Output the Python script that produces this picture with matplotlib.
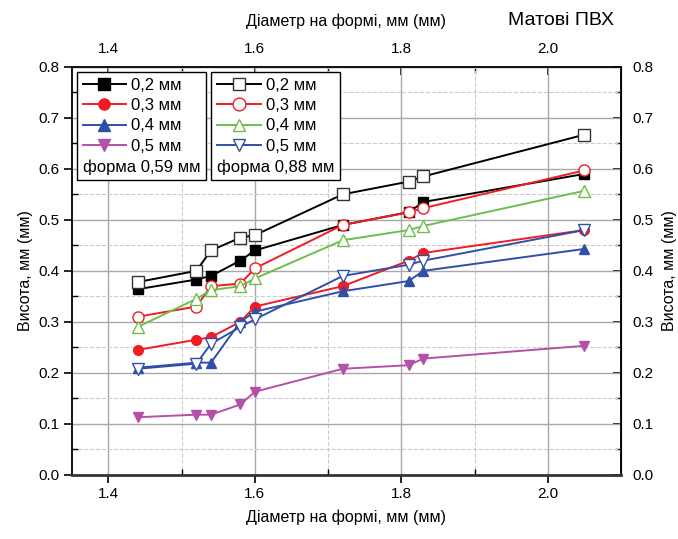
import matplotlib.pyplot as plt
from matplotlib.ticker import MultipleLocator, FixedLocator

diam = [1.44, 1.52, 1.54, 1.58, 1.60, 1.72, 1.81, 1.83, 2.05]

# форма 0,59 мм (filled markers)
f059_02 = [0.364, 0.383, 0.390, 0.420, 0.440, 0.490, 0.515, 0.535, 0.590]
f059_03 = [0.245, 0.265, 0.270, 0.300, 0.330, 0.370, 0.420, 0.435, 0.480]
f059_04 = [0.210, 0.220, 0.220, 0.300, 0.320, 0.360, 0.380, 0.400, 0.443]
f059_05 = [0.113, 0.118, 0.118, 0.138, 0.163, 0.208, 0.215, 0.228, 0.253]

# форма 0,88 мм (open markers)
f088_02 = [0.378, 0.400, 0.440, 0.465, 0.470, 0.550, 0.575, 0.585, 0.667]
f088_03 = [0.310, 0.330, 0.370, 0.375, 0.405, 0.490, 0.515, 0.523, 0.597]
f088_04 = [0.290, 0.345, 0.362, 0.370, 0.385, 0.460, 0.480, 0.488, 0.557]
f088_05 = [0.208, 0.218, 0.257, 0.290, 0.305, 0.390, 0.412, 0.420, 0.480]

labels = ['0,2 мм', '0,3 мм', '0,4 мм', '0,5 мм']
xticks = [1.4, 1.6, 1.8, 2.0]
xminor = [1.5, 1.7, 1.9]

BLACK = '#000000'
RED = '#ee1c25'
BLUE = '#3050a8'
MAGENTA = '#b450a8'
GREEN = '#6cbf4a'

plt.rcParams['font.family'] = ['Liberation Sans', 'DejaVu Sans']

fig = plt.figure(figsize=(6.78, 5.39), dpi=100)
ax = fig.add_axes([0.106, 0.119, 0.81, 0.757])

ms = 7
lw = 1.4
filled = []
for ys, c, m in zip([f059_02, f059_03, f059_04, f059_05],
                    [BLACK, RED, BLUE, MAGENTA], ['s', 'o', '^', 'v']):
    h, = ax.plot(diam, ys, color=c, marker=m, ms=ms, lw=lw, mec=c, mfc=c, zorder=3)
    filled.append(h)

opened = []
for ys, c, m in zip([f088_02, f088_03, f088_04, f088_05],
                    [BLACK, RED, GREEN, BLUE], ['s', 'o', '^', 'v']):
    h, = ax.plot(diam, ys, color=c, marker=m, ms=ms + 1, lw=lw,
                 mec=c if c != BLACK else '#333333', mfc='white', mew=1.0, zorder=4)
    opened.append(h)

ax.set_xlim(1.35, 2.1)
ax.set_ylim(0.0, 0.8)
ax.xaxis.set_major_locator(FixedLocator(xticks))
ax.xaxis.set_minor_locator(FixedLocator(xminor))
ax.yaxis.set_major_locator(MultipleLocator(0.1))
ax.yaxis.set_minor_locator(MultipleLocator(0.05))
ax.grid(which='major', color='#a8a8a8', lw=1.0, ls='-', zorder=0)
ax.grid(which='minor', color='#cccccc', lw=0.8, ls='--', zorder=0)
ax.set_axisbelow(True)

fmt = plt.FuncFormatter(lambda v, p: f'{v:.1f}')
ax.xaxis.set_major_formatter(fmt)
ax.yaxis.set_major_formatter(fmt)
ax.tick_params(which='major', direction='out', length=6, width=1.2, labelsize=11, pad=3)
ax.tick_params(which='minor', direction='in', length=4, width=1.0)

for s in ['left', 'right', 'top']:
    ax.spines[s].set_linewidth(1.3)
ax.spines['bottom'].set_linewidth(2.0)
ax.spines['bottom'].set_color('#333333')

ax.set_xlabel('Діаметр на формі, мм (мм)', fontsize=11.5, labelpad=6)
ax.set_ylabel('Висота, мм (мм)', fontsize=11.5, labelpad=4)

top = ax.secondary_xaxis('top')
top.xaxis.set_major_locator(FixedLocator(xticks))
top.xaxis.set_minor_locator(FixedLocator(xminor))
top.xaxis.set_major_formatter(fmt)
top.tick_params(which='major', direction='in', length=6, width=1.2, labelsize=11, pad=8)
top.tick_params(which='minor', direction='in', length=4, width=1.0)
top.set_xlabel('Діаметр на формі, мм (мм)', fontsize=11.5, labelpad=11)

right = ax.secondary_yaxis('right')
right.yaxis.set_major_locator(MultipleLocator(0.1))
right.yaxis.set_minor_locator(MultipleLocator(0.05))
right.yaxis.set_major_formatter(fmt)
right.tick_params(which='major', direction='in', length=6, width=1.2, labelsize=11, pad=8)
right.tick_params(which='minor', direction='in', length=4, width=1.0)
right.set_ylabel('Висота, мм (мм)', fontsize=11.5, labelpad=6)

fig.text(0.905, 0.962, 'Матові ПВХ', fontsize=14, ha='right', va='center')


def make_legend(handles, title, x):
    leg = ax.legend(handles, labels, title=title, loc='upper left', bbox_to_anchor=(x, 1.0),
                    bbox_transform=ax.transAxes, fontsize=12, title_fontsize=12,
                    frameon=True, fancybox=False, framealpha=1, edgecolor='black',
                    borderpad=0.35, labelspacing=0.32, handlelength=2.6, handletextpad=0.3,
                    borderaxespad=0.3, alignment='left', markerscale=1.15)
    leg.get_frame().set_linewidth(1.0)
    box = leg._legend_box
    box._children = box._children[::-1]
    return leg


leg1 = make_legend(filled, 'форма 0,59 мм', 0.0)
ax.add_artist(leg1)
leg2 = make_legend(opened, 'форма 0,88 мм', 0.245)

fig.savefig('out.png', dpi=100)
